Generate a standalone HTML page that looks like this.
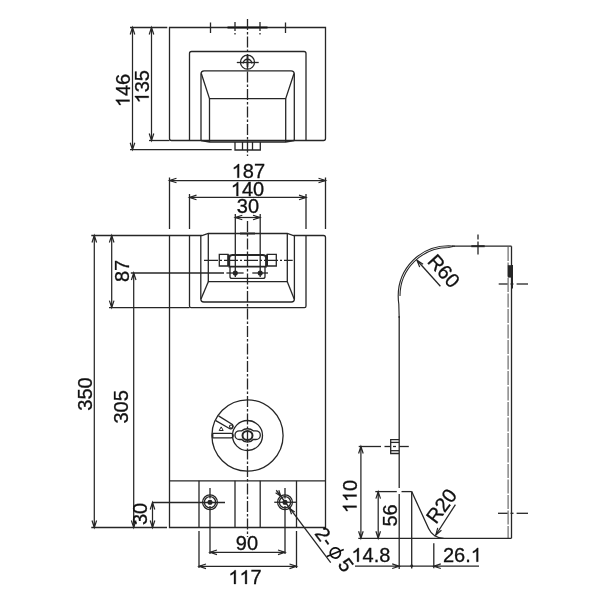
<!DOCTYPE html>
<html><head><meta charset="utf-8"><style>
html,body{margin:0;padding:0;background:#fff;}
svg{display:block;will-change:transform;}
text{font-family:"Liberation Sans",sans-serif;fill:#111;stroke:#111;stroke-width:0.3px;}
</style></head><body>
<svg width="600" height="600" viewBox="0 0 600 600">
<rect width="600" height="600" fill="#fff"/>
<path d="M169.5,27.5 L325.5,27.5 L325.5,138.5 Q325.5,140.5 323.5,140.5 L171.5,140.5 Q169.5,140.5 169.5,138.5 Z" stroke="#262626" stroke-width="1.3" fill="none" />
<line x1="227.5" y1="27.5" x2="267.5" y2="27.5" stroke="#111" stroke-width="1.8"/>
<line x1="210.5" y1="22.5" x2="210.5" y2="33" stroke="#262626" stroke-width="1.3"/>
<line x1="285.5" y1="22.5" x2="285.5" y2="33" stroke="#262626" stroke-width="1.3"/>
<line x1="235" y1="22" x2="235" y2="31" stroke="#262626" stroke-width="1.3"/>
<line x1="235" y1="33" x2="235" y2="36" stroke="#262626" stroke-width="1.3" stroke-dasharray="1.5 1.5"/>
<line x1="260" y1="22" x2="260" y2="31" stroke="#262626" stroke-width="1.3"/>
<line x1="260" y1="33" x2="260" y2="36" stroke="#262626" stroke-width="1.3" stroke-dasharray="1.5 1.5"/>
<path d="M189.5,140.5 L189.5,53.5 Q189.5,51.5 191.5,51.5 L304,51.5 Q306,51.5 306,53.5 L306,140.5" stroke="#262626" stroke-width="1.3" fill="none" />
<circle cx="247.5" cy="62.2" r="7" stroke="#262626" stroke-width="1.3" fill="none"/>
<path d="M243.2,63.6 A4.3,4.3 0 0 1 251.8,63.6" stroke="#262626" stroke-width="1.5" fill="none" />
<line x1="236.8" y1="62.5" x2="258.7" y2="62.5" stroke="#262626" stroke-width="1.3"/>
<line x1="247.5" y1="55.3" x2="247.5" y2="67" stroke="#262626" stroke-width="1.8"/>
<path d="M201,140.5 L201,74 Q201,70.8 204,70.8 L291,70.8 Q294.3,70.8 294.3,74 L294.3,140.5" stroke="#262626" stroke-width="1.3" fill="none" />
<path d="M201.3,73.5 L209.5,98.7 L285.7,98.7 L294,73.5" stroke="#262626" stroke-width="1.3" fill="none" />
<line x1="209.5" y1="98.7" x2="209.5" y2="142" stroke="#262626" stroke-width="1.3"/>
<line x1="285.7" y1="98.7" x2="285.7" y2="142" stroke="#262626" stroke-width="1.3"/>
<path d="M201,140.5 L209.5,142 L285.7,142 L294.3,140.5" stroke="#262626" stroke-width="1.3" fill="none" />
<path d="M235,142 L235,150 L260.3,150 L260.3,142" stroke="#262626" stroke-width="1.3" fill="none" />
<line x1="242.5" y1="142" x2="242.5" y2="150" stroke="#262626" stroke-width="1.3"/>
<line x1="252.5" y1="142" x2="252.5" y2="150" stroke="#262626" stroke-width="1.3"/>
<line x1="247.5" y1="19" x2="247.5" y2="156" stroke="#262626" stroke-width="1.3" stroke-dasharray="11 2 2.5 2"/>
<line x1="130" y1="27.5" x2="167.3" y2="27.5" stroke="#262626" stroke-width="1.3"/>
<line x1="130" y1="149.7" x2="231.7" y2="149.7" stroke="#262626" stroke-width="1.3"/>
<line x1="149" y1="140.5" x2="169.5" y2="140.5" stroke="#262626" stroke-width="1.3"/>
<line x1="132.5" y1="27.5" x2="132.5" y2="149.7" stroke="#262626" stroke-width="1.25"/>
<path d="M134.80,34.50 L132.5,27.5 L130.20,34.50" stroke="#262626" stroke-width="1.2" fill="none" />
<path d="M133.65,31.35 L132.5,27.5 L131.35,31.35 Z" fill="#262626"/>
<path d="M130.20,142.70 L132.5,149.7 L134.80,142.70" stroke="#262626" stroke-width="1.2" fill="none" />
<path d="M131.35,145.85 L132.5,149.7 L133.65,145.85 Z" fill="#262626"/>
<line x1="151.5" y1="27.5" x2="151.5" y2="140.5" stroke="#262626" stroke-width="1.25"/>
<path d="M153.80,34.50 L151.5,27.5 L149.20,34.50" stroke="#262626" stroke-width="1.2" fill="none" />
<path d="M152.65,31.35 L151.5,27.5 L150.35,31.35 Z" fill="#262626"/>
<path d="M149.20,133.50 L151.5,140.5 L153.80,133.50" stroke="#262626" stroke-width="1.2" fill="none" />
<path d="M150.35,136.65 L151.5,140.5 L152.65,136.65 Z" fill="#262626"/>
<g transform="translate(129.6,90.5) rotate(-90)"><text x="-16.68" y="0" font-size="20"> 46</text><path d="M763,0 L583,0 L583,1097.9 Q518,1038.6 412.5,979.2 Q307,919.9 223,890.2 L223,1056.8 Q374,1124.7 487,1221.4 Q600,1318.1 647,1409 L763,1409 Z" transform="translate(-16.68,0) scale(0.00977,-0.00977)" fill="#111" stroke="#111" stroke-width="30.7"/></g>
<g transform="translate(148.7,86.75) rotate(-90)"><text x="-16.68" y="0" font-size="20"> 35</text><path d="M763,0 L583,0 L583,1097.9 Q518,1038.6 412.5,979.2 Q307,919.9 223,890.2 L223,1056.8 Q374,1124.7 487,1221.4 Q600,1318.1 647,1409 L763,1409 Z" transform="translate(-16.68,0) scale(0.00977,-0.00977)" fill="#111" stroke="#111" stroke-width="30.7"/></g>
<line x1="169.5" y1="177.5" x2="169.5" y2="229" stroke="#262626" stroke-width="1.3"/>
<line x1="325.5" y1="177.5" x2="325.5" y2="229" stroke="#262626" stroke-width="1.3"/>
<line x1="169.5" y1="180.5" x2="325.5" y2="180.5" stroke="#262626" stroke-width="1.25"/>
<path d="M176.50,178.20 L169.5,180.5 L176.50,182.80" stroke="#262626" stroke-width="1.2" fill="none" />
<path d="M173.35,179.35 L169.5,180.5 L173.35,181.65 Z" fill="#262626"/>
<path d="M318.50,182.80 L325.5,180.5 L318.50,178.20" stroke="#262626" stroke-width="1.2" fill="none" />
<path d="M321.65,181.65 L325.5,180.5 L321.65,179.35 Z" fill="#262626"/>
<g transform="translate(248.35,177.8)"><text x="-16.68" y="0" font-size="20"> 87</text><path d="M763,0 L583,0 L583,1097.9 Q518,1038.6 412.5,979.2 Q307,919.9 223,890.2 L223,1056.8 Q374,1124.7 487,1221.4 Q600,1318.1 647,1409 L763,1409 Z" transform="translate(-16.68,0) scale(0.00977,-0.00977)" fill="#111" stroke="#111" stroke-width="30.7"/></g>
<line x1="189.5" y1="194" x2="189.5" y2="229" stroke="#262626" stroke-width="1.3"/>
<line x1="306" y1="194" x2="306" y2="229" stroke="#262626" stroke-width="1.3"/>
<line x1="189.5" y1="197.4" x2="306" y2="197.4" stroke="#262626" stroke-width="1.25"/>
<path d="M196.50,195.10 L189.5,197.4 L196.50,199.70" stroke="#262626" stroke-width="1.2" fill="none" />
<path d="M193.35,196.25 L189.5,197.4 L193.35,198.55 Z" fill="#262626"/>
<path d="M299.00,199.70 L306,197.4 L299.00,195.10" stroke="#262626" stroke-width="1.2" fill="none" />
<path d="M302.15,198.55 L306,197.4 L302.15,196.25 Z" fill="#262626"/>
<g transform="translate(247.45,196.0)"><text x="-16.68" y="0" font-size="20"> 40</text><path d="M763,0 L583,0 L583,1097.9 Q518,1038.6 412.5,979.2 Q307,919.9 223,890.2 L223,1056.8 Q374,1124.7 487,1221.4 Q600,1318.1 647,1409 L763,1409 Z" transform="translate(-16.68,0) scale(0.00977,-0.00977)" fill="#111" stroke="#111" stroke-width="30.7"/></g>
<line x1="235.3" y1="214" x2="235.3" y2="277" stroke="#262626" stroke-width="1.3"/>
<line x1="260.2" y1="214" x2="260.2" y2="277" stroke="#262626" stroke-width="1.3"/>
<line x1="235.3" y1="217.5" x2="260" y2="217.5" stroke="#262626" stroke-width="1.25"/>
<path d="M242.30,215.20 L235.3,217.5 L242.30,219.80" stroke="#262626" stroke-width="1.2" fill="none" />
<path d="M239.15,216.35 L235.3,217.5 L239.15,218.65 Z" fill="#262626"/>
<path d="M253.00,219.80 L260,217.5 L253.00,215.20" stroke="#262626" stroke-width="1.2" fill="none" />
<path d="M256.15,218.65 L260,217.5 L256.15,216.35 Z" fill="#262626"/>
<g transform="translate(247.95,213.0)"><text x="-11.12" y="0" font-size="20">30</text></g>
<path d="M91.3,235.5 L202,235.5 L208.3,233.5 L287.3,233.5 L293.5,235.5 L323.5,235.5 Q325.5,235.5 325.5,237.5 L325.5,527.5 L169.5,527.5 L169.5,235.5" stroke="#262626" stroke-width="1.3" fill="none" />
<line x1="240" y1="233.5" x2="255" y2="233.5" stroke="#262626" stroke-width="1.9"/>
<path d="M189.5,235.5 L189.5,306 Q189.5,307.6 191,307.6 L304.5,307.6 Q306,307.6 306,306 L306,235.5" stroke="#262626" stroke-width="1.3" fill="none" />
<path d="M200.8,235.5 L200.8,299 Q200.8,302 203.8,302 L291.4,302 Q294.4,302 294.4,299 L294.4,235.5" stroke="#262626" stroke-width="1.3" fill="none" />
<path d="M208.3,233.5 L208.3,281.7 L287.3,281.7 L287.3,233.5" stroke="#262626" stroke-width="1.3" fill="none" />
<line x1="208.3" y1="281.7" x2="201" y2="299" stroke="#262626" stroke-width="1.3"/>
<line x1="287.3" y1="281.7" x2="294.2" y2="299" stroke="#262626" stroke-width="1.3"/>
<path d="M219.3,254.4 L228,254.4 L228,266 L219.3,266 Z" stroke="#262626" stroke-width="1.3" fill="none" />
<line x1="228.5" y1="254.4" x2="228.5" y2="266" stroke="#262626" stroke-width="2"/>
<path d="M267.3,254.4 L276.3,254.4 L276.3,266 L267.3,266 Z" stroke="#262626" stroke-width="1.3" fill="none" />
<line x1="267" y1="254.4" x2="267" y2="266" stroke="#262626" stroke-width="2"/>
<path d="M232.3,255 L263,255 Q266,255 266,258 L266,266.7 L229.3,266.7 L229.3,258 Q229.3,255 232.3,255 Z" stroke="#262626" stroke-width="1.8" fill="none" />
<path d="M230,266.7 L230,276.4 Q230,278.4 232,278.4 L263,278.4 Q265,278.4 265,276.4 L265,266.7" stroke="#262626" stroke-width="1.3" fill="none" />
<circle cx="235.3" cy="273" r="1.9" stroke="#262626" stroke-width="1.3" fill="#262626"/>
<circle cx="260.2" cy="273" r="1.9" stroke="#262626" stroke-width="1.3" fill="#262626"/>
<line x1="204" y1="260.3" x2="292.7" y2="260.3" stroke="#262626" stroke-width="1.3" stroke-dasharray="14 2 2 2"/>
<line x1="109" y1="307.6" x2="189.5" y2="307.6" stroke="#262626" stroke-width="1.3"/>
<line x1="130.8" y1="273" x2="224" y2="273" stroke="#262626" stroke-width="1.3"/>
<line x1="226.4" y1="273" x2="243.6" y2="273" stroke="#262626" stroke-width="1.3"/>
<line x1="252.3" y1="273" x2="268" y2="273" stroke="#262626" stroke-width="1.3"/>
<line x1="247.5" y1="221" x2="247.5" y2="537" stroke="#262626" stroke-width="1.3" stroke-dasharray="11 2 2.5 2"/>
<circle cx="247.5" cy="435.5" r="35.6" stroke="#262626" stroke-width="1.3" fill="none"/>
<circle cx="247.5" cy="435.5" r="15" stroke="#262626" stroke-width="1.3" fill="none"/>
<path d="M241.8,430.8 L239.4,430.8 A4.4,4.35 0 0 0 239.4,439.5 L241.8,439.5 Q244,442.2 247.5,442.2 Q251,442.2 253.2,439.5 L255.9,439.5 A4.4,4.35 0 0 0 255.9,430.8 L253.2,430.8 Q251,428.75 247.5,428.75 Q244,428.75 241.8,430.8 Z" stroke="#262626" stroke-width="1.3" fill="none" />
<ellipse cx="247.5" cy="435.5" rx="5.0" ry="4.5" stroke="#262626" stroke-width="2" fill="none"/>
<path d="M218.5,415.9 L232.4,424.4 A2.6,2.6 0 0 1 229.8,428.7 L215.8,420.6" stroke="#262626" stroke-width="1.3" fill="none" />
<circle cx="231.1" cy="426.6" r="1.6" stroke="#262626" stroke-width="1.1" fill="none"/>
<path d="M212.4,433.4 L231,433.4 A2.2,2.2 0 0 1 231,437.8 L212.4,437.8" stroke="#262626" stroke-width="1.3" fill="none" />
<line x1="212.6" y1="433.4" x2="212.6" y2="437.8" stroke="#262626" stroke-width="1.6"/>
<path d="M219.2,430.5 L221.2,426.9 L223.2,430.5 Z" stroke="#262626" stroke-width="1.0" fill="none" />
<line x1="169.5" y1="480.8" x2="325.5" y2="480.8" stroke="#262626" stroke-width="1.3"/>
<line x1="199" y1="480.8" x2="199" y2="527.5" stroke="#262626" stroke-width="1.3"/>
<line x1="235" y1="480.8" x2="235" y2="527.5" stroke="#262626" stroke-width="1.3"/>
<line x1="260.2" y1="480.8" x2="260.2" y2="527.5" stroke="#262626" stroke-width="1.3"/>
<line x1="296.5" y1="480.8" x2="296.5" y2="527.5" stroke="#262626" stroke-width="1.3"/>
<circle cx="210" cy="502.25" r="7.4" stroke="#262626" stroke-width="1.3" fill="none"/>
<circle cx="210" cy="502.25" r="5.6" stroke="#262626" stroke-width="1.3" fill="none"/>
<circle cx="210" cy="502.25" r="1.9" stroke="#262626" stroke-width="1.3" fill="#262626"/>
<line x1="210" y1="488" x2="210" y2="498.5" stroke="#262626" stroke-width="1.3"/>
<line x1="210" y1="506" x2="210" y2="554" stroke="#262626" stroke-width="1.3"/>
<circle cx="285" cy="502.25" r="7.4" stroke="#262626" stroke-width="1.3" fill="none"/>
<circle cx="285" cy="502.25" r="5.6" stroke="#262626" stroke-width="1.3" fill="none"/>
<circle cx="285" cy="502.25" r="1.9" stroke="#262626" stroke-width="1.3" fill="#262626"/>
<line x1="285" y1="488" x2="285" y2="498.5" stroke="#262626" stroke-width="1.3"/>
<line x1="285" y1="506" x2="285" y2="554" stroke="#262626" stroke-width="1.3"/>
<line x1="152" y1="502.5" x2="225" y2="502.5" stroke="#262626" stroke-width="1.3"/>
<line x1="274.25" y1="502.25" x2="296.5" y2="502.25" stroke="#262626" stroke-width="1.3"/>
<line x1="276.25" y1="490.25" x2="330.7" y2="562.7" stroke="#262626" stroke-width="1.3"/>
<path d="M275.60,492.71 L280.8,496.3 L278.79,490.30" stroke="#262626" stroke-width="1.2" fill="none" />
<path d="M278.02,494.26 L280.8,496.3 L279.62,493.06 Z" fill="#262626"/>
<path d="M294.70,511.89 L289.5,508.3 L291.51,514.30" stroke="#262626" stroke-width="1.2" fill="none" />
<path d="M292.28,510.34 L289.5,508.3 L290.68,511.54 Z" fill="#262626"/>
<g transform="translate(314,533.8) rotate(53)"><text x="0" y="0" font-size="20">2-</text><circle cx="28.1" cy="-5.5" r="5.1" stroke="#111" stroke-width="1.7" fill="none"/><line x1="25.8" y1="3.35" x2="30.4" y2="-14.35" stroke="#111" stroke-width="1.6"/><text x="38.6" y="0.4" font-size="20">5</text></g>
<line x1="91.3" y1="527.5" x2="167" y2="527.5" stroke="#262626" stroke-width="1.3"/>
<line x1="94.3" y1="235.5" x2="94.3" y2="527.5" stroke="#262626" stroke-width="1.25"/>
<path d="M96.60,242.50 L94.3,235.5 L92.00,242.50" stroke="#262626" stroke-width="1.2" fill="none" />
<path d="M95.45,239.35 L94.3,235.5 L93.15,239.35 Z" fill="#262626"/>
<path d="M92.00,520.50 L94.3,527.5 L96.60,520.50" stroke="#262626" stroke-width="1.2" fill="none" />
<path d="M93.15,523.65 L94.3,527.5 L95.45,523.65 Z" fill="#262626"/>
<g transform="translate(91.75,394.0) rotate(-90)"><text x="-16.68" y="0" font-size="20">350</text></g>
<line x1="111.7" y1="235.5" x2="111.7" y2="307.6" stroke="#262626" stroke-width="1.25"/>
<path d="M114.00,242.50 L111.7,235.5 L109.40,242.50" stroke="#262626" stroke-width="1.2" fill="none" />
<path d="M112.85,239.35 L111.7,235.5 L110.55,239.35 Z" fill="#262626"/>
<path d="M109.40,300.60 L111.7,307.6 L114.00,300.60" stroke="#262626" stroke-width="1.2" fill="none" />
<path d="M110.55,303.75 L111.7,307.6 L112.85,303.75 Z" fill="#262626"/>
<g transform="translate(128.5,270.95) rotate(-90)"><text x="-11.12" y="0" font-size="20">87</text></g>
<line x1="133.7" y1="273" x2="133.7" y2="527.5" stroke="#262626" stroke-width="1.25"/>
<path d="M136.00,280.00 L133.7,273 L131.40,280.00" stroke="#262626" stroke-width="1.2" fill="none" />
<path d="M134.85,276.85 L133.7,273 L132.55,276.85 Z" fill="#262626"/>
<path d="M131.40,520.50 L133.7,527.5 L136.00,520.50" stroke="#262626" stroke-width="1.2" fill="none" />
<path d="M132.55,523.65 L133.7,527.5 L134.85,523.65 Z" fill="#262626"/>
<g transform="translate(128.45,406.85) rotate(-90)"><text x="-16.68" y="0" font-size="20">305</text></g>
<line x1="152.5" y1="502.5" x2="152.5" y2="527.5" stroke="#262626" stroke-width="1.25"/>
<path d="M154.80,509.50 L152.5,502.5 L150.20,509.50" stroke="#262626" stroke-width="1.2" fill="none" />
<path d="M153.65,506.35 L152.5,502.5 L151.35,506.35 Z" fill="#262626"/>
<path d="M150.20,520.50 L152.5,527.5 L154.80,520.50" stroke="#262626" stroke-width="1.2" fill="none" />
<path d="M151.35,523.65 L152.5,527.5 L153.65,523.65 Z" fill="#262626"/>
<g transform="translate(146.95,514.0) rotate(-90)"><text x="-11.12" y="0" font-size="20">30</text></g>
<line x1="210" y1="552.3" x2="285" y2="552.3" stroke="#262626" stroke-width="1.25"/>
<path d="M217.00,550.00 L210,552.3 L217.00,554.60" stroke="#262626" stroke-width="1.2" fill="none" />
<path d="M213.85,551.15 L210,552.3 L213.85,553.45 Z" fill="#262626"/>
<path d="M278.00,554.60 L285,552.3 L278.00,550.00" stroke="#262626" stroke-width="1.2" fill="none" />
<path d="M281.15,553.45 L285,552.3 L281.15,551.15 Z" fill="#262626"/>
<g transform="translate(246.9,549.9)"><text x="-11.12" y="0" font-size="20">90</text></g>
<line x1="199" y1="531" x2="199" y2="568" stroke="#262626" stroke-width="1.3"/>
<line x1="296.5" y1="531" x2="296.5" y2="568" stroke="#262626" stroke-width="1.3"/>
<line x1="199" y1="566.3" x2="296.5" y2="566.3" stroke="#262626" stroke-width="1.25"/>
<path d="M206.00,564.00 L199,566.3 L206.00,568.60" stroke="#262626" stroke-width="1.2" fill="none" />
<path d="M202.85,565.15 L199,566.3 L202.85,567.45 Z" fill="#262626"/>
<path d="M289.50,568.60 L296.5,566.3 L289.50,564.00" stroke="#262626" stroke-width="1.2" fill="none" />
<path d="M292.65,567.45 L296.5,566.3 L292.65,565.15 Z" fill="#262626"/>
<g transform="translate(245.0,584.0)"><text x="-16.68" y="0" font-size="20">  7</text><path d="M763,0 L583,0 L583,1097.9 Q518,1038.6 412.5,979.2 Q307,919.9 223,890.2 L223,1056.8 Q374,1124.7 487,1221.4 Q600,1318.1 647,1409 L763,1409 Z" transform="translate(-16.68,0) scale(0.00977,-0.00977)" fill="#111" stroke="#111" stroke-width="30.7"/><path d="M763,0 L583,0 L583,1097.9 Q518,1038.6 412.5,979.2 Q307,919.9 223,890.2 L223,1056.8 Q374,1124.7 487,1221.4 Q600,1318.1 647,1409 L763,1409 Z" transform="translate(-5.56,0) scale(0.00977,-0.00977)" fill="#111" stroke="#111" stroke-width="30.7"/></g>
<path d="M399.2,318 L398.8,304 Q398.2,300 398.2,296 A50.3,50.3 0 0 1 448.5,245.7 L455,246.2" stroke="#262626" stroke-width="1.15" fill="none" />
<path d="M400,296 A48.5,48.5 0 0 1 448.5,247.5 L453,246.6" stroke="#262626" stroke-width="1.05" fill="none" />
<line x1="399.2" y1="316" x2="399.2" y2="488" stroke="#262626" stroke-width="1.3"/>
<line x1="452" y1="246.2" x2="511.5" y2="246.2" stroke="#262626" stroke-width="1.3"/>
<line x1="471.3" y1="246.2" x2="484.7" y2="246.2" stroke="#262626" stroke-width="2"/>
<line x1="478" y1="234.5" x2="478" y2="256.5" stroke="#262626" stroke-width="1.3" stroke-dasharray="5 2 13 2"/>
<line x1="511.5" y1="246.2" x2="511.5" y2="538.3" stroke="#262626" stroke-width="1.3"/>
<line x1="508.1" y1="247" x2="508.1" y2="538.3" stroke="#6a6a6a" stroke-width="1.2" stroke-dasharray="14 1.5"/>
<rect x="507.8" y="265.2" width="5" height="12.4" fill="#262626"/>
<line x1="512.2" y1="265" x2="512.2" y2="288.6" stroke="#262626" stroke-width="1.6"/>
<line x1="498.7" y1="284" x2="507.6" y2="284" stroke="#262626" stroke-width="1.3"/>
<line x1="510.5" y1="284" x2="513.5" y2="284" stroke="#262626" stroke-width="1.3"/>
<line x1="516.6" y1="284" x2="528" y2="284" stroke="#262626" stroke-width="1.3"/>
<line x1="498" y1="513.3" x2="507.6" y2="513.3" stroke="#262626" stroke-width="1.3"/>
<line x1="510.5" y1="513.3" x2="513.5" y2="513.3" stroke="#262626" stroke-width="1.3"/>
<line x1="516.6" y1="513.3" x2="528" y2="513.3" stroke="#262626" stroke-width="1.3"/>
<path d="M423.11,264.36 L417,260.3 L419.69,267.13" stroke="#262626" stroke-width="1.2" fill="none" />
<path d="M420.28,262.60 L417,260.3 L418.56,263.99 Z" fill="#262626"/>
<line x1="417" y1="260.3" x2="440.4" y2="286.25" stroke="#262626" stroke-width="1.3"/>
<g transform="translate(438.7,275.5) rotate(48)"><text x="-18.34" y="0" font-size="20">R60</text></g>
<path d="M399.2,439.7 L390.7,439.7 L390.7,453.5 L399.2,453.5" stroke="#262626" stroke-width="1.3" fill="none" />
<line x1="390.7" y1="442.4" x2="399.2" y2="442.4" stroke="#262626" stroke-width="1.3"/>
<line x1="390.7" y1="450.7" x2="399.2" y2="450.7" stroke="#262626" stroke-width="1.3"/>
<line x1="358.7" y1="446.5" x2="381" y2="446.5" stroke="#262626" stroke-width="1.3"/>
<line x1="384.5" y1="446.5" x2="390.7" y2="446.5" stroke="#262626" stroke-width="1.3"/>
<line x1="393" y1="446.5" x2="396" y2="446.5" stroke="#262626" stroke-width="1.3"/>
<line x1="399.2" y1="446.5" x2="408.8" y2="446.5" stroke="#262626" stroke-width="1.3"/>
<line x1="360.9" y1="446.5" x2="360.9" y2="538.3" stroke="#262626" stroke-width="1.25"/>
<path d="M363.20,453.50 L360.9,446.5 L358.60,453.50" stroke="#262626" stroke-width="1.2" fill="none" />
<path d="M362.05,450.35 L360.9,446.5 L359.75,450.35 Z" fill="#262626"/>
<path d="M358.60,531.30 L360.9,538.3 L363.20,531.30" stroke="#262626" stroke-width="1.2" fill="none" />
<path d="M359.75,534.45 L360.9,538.3 L362.05,534.45 Z" fill="#262626"/>
<g transform="translate(356.6,496.55) rotate(-90)"><text x="-16.68" y="0" font-size="20">  0</text><path d="M763,0 L583,0 L583,1097.9 Q518,1038.6 412.5,979.2 Q307,919.9 223,890.2 L223,1056.8 Q374,1124.7 487,1221.4 Q600,1318.1 647,1409 L763,1409 Z" transform="translate(-16.68,0) scale(0.00977,-0.00977)" fill="#111" stroke="#111" stroke-width="30.7"/><path d="M763,0 L583,0 L583,1097.9 Q518,1038.6 412.5,979.2 Q307,919.9 223,890.2 L223,1056.8 Q374,1124.7 487,1221.4 Q600,1318.1 647,1409 L763,1409 Z" transform="translate(-5.56,0) scale(0.00977,-0.00977)" fill="#111" stroke="#111" stroke-width="30.7"/></g>
<line x1="375.3" y1="491.6" x2="396.8" y2="491.6" stroke="#262626" stroke-width="1.3"/>
<line x1="401.5" y1="491.6" x2="411.7" y2="491.6" stroke="#262626" stroke-width="1.3"/>
<line x1="378.2" y1="491.6" x2="378.2" y2="538.3" stroke="#262626" stroke-width="1.25"/>
<path d="M380.50,498.60 L378.2,491.6 L375.90,498.60" stroke="#262626" stroke-width="1.2" fill="none" />
<path d="M379.35,495.45 L378.2,491.6 L377.05,495.45 Z" fill="#262626"/>
<path d="M375.90,531.30 L378.2,538.3 L380.50,531.30" stroke="#262626" stroke-width="1.2" fill="none" />
<path d="M377.05,534.45 L378.2,538.3 L379.35,534.45 Z" fill="#262626"/>
<g transform="translate(396.6,515.5) rotate(-90)"><text x="-11.12" y="0" font-size="20">56</text></g>
<line x1="399.2" y1="494" x2="399.2" y2="569" stroke="#262626" stroke-width="1.3"/>
<line x1="411.7" y1="491.6" x2="411.7" y2="568.5" stroke="#262626" stroke-width="1.3"/>
<path d="M411.7,491.6 L428.6,528.6 A16.7,16.7 0 0 0 443.7,538.3" stroke="#262626" stroke-width="1.3" fill="none" />
<line x1="358.3" y1="538.3" x2="511.5" y2="538.3" stroke="#262626" stroke-width="1.3"/>
<line x1="455.4" y1="504.6" x2="435.8" y2="535" stroke="#262626" stroke-width="1.3"/>
<path d="M437.74,527.92 L435.8,535 L441.44,530.31" stroke="#262626" stroke-width="1.2" fill="none" />
<path d="M436.96,531.17 L435.8,535 L438.81,532.36 Z" fill="#262626"/>
<g transform="translate(446.92,510.08) rotate(-53)"><text x="-18.34" y="0" font-size="20">R20</text></g>
<line x1="355" y1="566.2" x2="479" y2="566.2" stroke="#262626" stroke-width="1.25"/>
<path d="M392.20,568.50 L399.2,566.2 L392.20,563.90" stroke="#262626" stroke-width="1.2" fill="none" />
<path d="M395.35,567.35 L399.2,566.2 L395.35,565.05 Z" fill="#262626"/>
<circle cx="411.7" cy="566" r="1.4" stroke="#262626" stroke-width="0" fill="#262626"/>
<g transform="translate(370.85,561.7)"><text x="-19.46" y="0" font-size="20"> 4.8</text><path d="M763,0 L583,0 L583,1097.9 Q518,1038.6 412.5,979.2 Q307,919.9 223,890.2 L223,1056.8 Q374,1124.7 487,1221.4 Q600,1318.1 647,1409 L763,1409 Z" transform="translate(-19.46,0) scale(0.00977,-0.00977)" fill="#111" stroke="#111" stroke-width="30.7"/></g>
<line x1="433.8" y1="543.3" x2="433.8" y2="568.3" stroke="#262626" stroke-width="1.3"/>
<path d="M440.80,563.90 L433.8,566.2 L440.80,568.50" stroke="#262626" stroke-width="1.2" fill="none" />
<path d="M437.65,565.05 L433.8,566.2 L437.65,567.35 Z" fill="#262626"/>
<g transform="translate(462.4,561.7)"><text x="-19.46" y="0" font-size="20">26. </text><path d="M763,0 L583,0 L583,1097.9 Q518,1038.6 412.5,979.2 Q307,919.9 223,890.2 L223,1056.8 Q374,1124.7 487,1221.4 Q600,1318.1 647,1409 L763,1409 Z" transform="translate(8.34,0) scale(0.00977,-0.00977)" fill="#111" stroke="#111" stroke-width="30.7"/></g>
</svg></body></html>
